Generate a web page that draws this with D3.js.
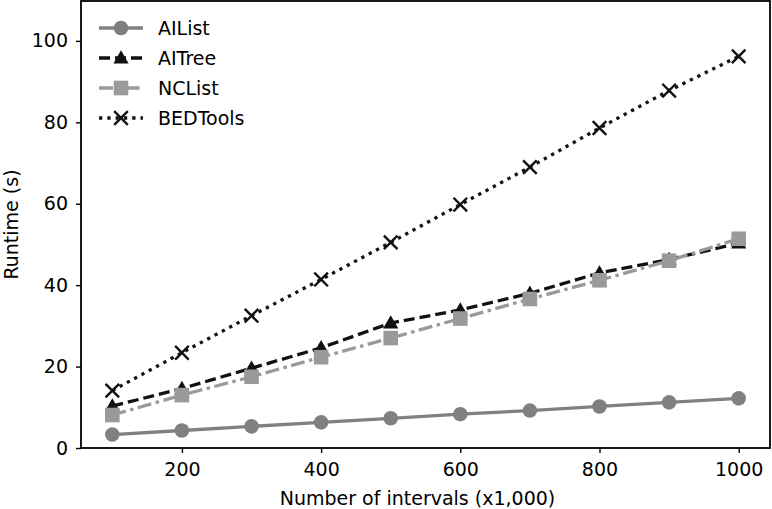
<!DOCTYPE html>
<html><head><meta charset="utf-8">
<script src="https://cdn.jsdelivr.net/npm/d3@7"></script>
<style>body{margin:0;background:#fff}svg{display:block}text{font-family:"DejaVu Sans",sans-serif;fill:#000}</style>
</head><body><svg id="c" width="772" height="509"></svg>
<script>
const xValues = [100,200,300,400,500,600,700,800,900,1000];
const aiList = [3.3,4.3,5.3,6.3,7.3,8.3,9.2,10.2,11.2,12.2];
const aiTree = [10.3,14.6,19.6,24.6,30.7,33.9,38.0,43.0,46.3,50.3];
const ncList = [8.1,13.0,17.5,22.3,27.0,31.8,36.6,41.2,46.0,51.4];
const bedTools = [14.1,23.4,32.5,41.4,50.5,59.8,69.0,78.6,87.8,96.2];
const xTicks = [200,400,600,800,1000];
const yTicks = [0,20,40,60,80,100];
const seriesNames = ["AIList","AITree","NCList","BEDTools"];

const series = [
  {name:seriesNames[0], values:aiList, color:"#808080", dash:null, marker:"circle"},
  {name:seriesNames[1], values:aiTree, color:"#111111", dash:"11,5", marker:"triangle"},
  {name:seriesNames[2], values:ncList, color:"#9a9a9a", dash:"14,4.5,3.5,4.5", marker:"square"},
  {name:seriesNames[3], values:bedTools, color:"#111111", dash:"3.3,5", marker:"x"}
];

const L=81, R=770, T=1, B=448;
const FS=19;
const svg=d3.select("#c");
const x=d3.scaleLinear().domain([55,1045]).range([L,R]);
const y=d3.scaleLinear().domain([0,109.8]).range([B,T]);

function drawMarker(g, type, cx, cy, color){
  if(type==="circle") g.append("circle").attr("cx",cx).attr("cy",cy).attr("r",7.3).attr("fill",color);
  else if(type==="square") g.append("rect").attr("x",cx-7.3).attr("y",cy-7.3).attr("width",14.6).attr("height",14.6).attr("fill",color);
  else if(type==="triangle") g.append("path").attr("d",d3.symbol(d3.symbolTriangle,100)()).attr("transform",`translate(${cx},${cy+1})`).attr("fill",color);
  else if(type==="x"){
    const s=6.8;
    g.append("path").attr("d",`M${cx-s},${cy-s}L${cx+s},${cy+s}M${cx-s},${cy+s}L${cx+s},${cy-s}`).attr("stroke",color).attr("stroke-width",2.4).attr("fill","none");
  }
}

const line=d3.line().x((d,i)=>x(xValues[i])).y(d=>y(d));
const plot=svg.append("g");
series.forEach(s=>{
  const g=plot.append("g");
  g.append("path").datum(s.values).attr("d",line).attr("fill","none")
   .attr("stroke",s.color).attr("stroke-width",3.3).attr("stroke-dasharray",s.dash);
  s.values.forEach((v,i)=>drawMarker(g,s.marker,x(xValues[i]),y(v),s.color));
});

// axes
const xa=svg.append("g").attr("transform",`translate(0,${B})`)
  .call(d3.axisBottom(x).tickValues(xTicks).tickFormat(d3.format("d")).tickSize(5).tickPadding(10).tickSizeOuter(0));
const ya=svg.append("g").attr("transform",`translate(${L},0)`)
  .call(d3.axisLeft(y).tickValues(yTicks).tickFormat(d3.format("d")).tickSize(5).tickPadding(8).tickSizeOuter(0));
[xa,ya].forEach(a=>{a.select(".domain").remove();a.selectAll("line").attr("stroke","#000").attr("stroke-width",1.4);
  a.selectAll("text").attr("font-size",FS).attr("font-family","DejaVu Sans").attr("fill","#000");});
svg.append("rect").attr("x",L).attr("y",T).attr("width",R-L).attr("height",B-T)
  .attr("fill","none").attr("stroke","#000").attr("stroke-width",1.8);

svg.append("text").attr("x",(L+R)/2 - 8).attr("y",505).attr("text-anchor","middle").attr("font-size",FS).text("Number of intervals (x1,000)");
svg.append("text").attr("transform",`translate(18,${(T+B)/2}) rotate(-90)`).attr("text-anchor","middle").attr("font-size",FS).text("Runtime (s)");

// legend
const lg=svg.append("g");
series.forEach((s,i)=>{
  const yy=28+i*30;
  lg.append("line").attr("x1",99).attr("x2",143).attr("y1",yy).attr("y2",yy)
    .attr("stroke",s.color).attr("stroke-width",3.3).attr("stroke-dasharray",s.dash);
  drawMarker(lg,s.marker,121,yy,s.color);
  lg.append("text").attr("x",158).attr("y",yy+7).attr("font-size",FS).text(s.name);
});
</script></body></html>
